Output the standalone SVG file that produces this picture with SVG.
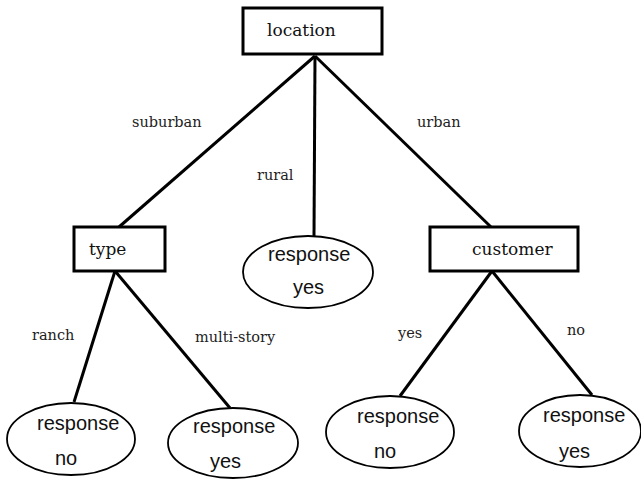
<svg xmlns="http://www.w3.org/2000/svg" width="641" height="480" viewBox="0 0 641 480">
<style>
.box{fill:#fff;stroke:#000;stroke-width:3}
.leaf{fill:#fff;stroke:#000;stroke-width:1.8}
.edge{stroke:#000;stroke-width:3;fill:none}
.bt{font-family:"DejaVu Serif","Liberation Serif",serif;font-size:17px;fill:#111}
.lb{font-family:"DejaVu Serif","Liberation Serif",serif;font-size:14.5px;fill:#222}
.lt{font-family:"Liberation Sans",Arial,sans-serif;font-size:20px;fill:#111}
</style>
<rect width="641" height="480" fill="#fff"/>
<g id="connectors">
<line class="edge" x1="315" y1="56" x2="119" y2="227"/>
<line class="edge" x1="315" y1="56" x2="314" y2="236"/>
<line class="edge" x1="315" y1="56" x2="491" y2="227"/>
<line class="edge" x1="115" y1="271" x2="74" y2="402"/>
<line class="edge" x1="115" y1="271" x2="230" y2="408"/>
<line class="edge" x1="492" y1="271" x2="400" y2="396"/>
<line class="edge" x1="492" y1="271" x2="592" y2="395"/>
<text class="lb" x="132" y="127">suburban</text>
<text class="lb" x="257" y="180">rural</text>
<text class="lb" x="417" y="127">urban</text>
<text class="lb" x="32" y="340">ranch</text>
<text class="lb" x="195" y="342">multi-story</text>
<text class="lb" x="398" y="338">yes</text>
<text class="lb" x="567" y="335">no</text>
</g>
<g id="location">
<rect class="box" x="243" y="8" width="139" height="46"/>
<text class="bt" x="267" y="36">location</text>
</g>
<g id="type">
<rect class="box" x="74" y="227" width="91" height="44"/>
<text class="bt" x="89" y="255">type</text>
</g>
<g id="customer">
<rect class="box" x="430" y="227" width="148" height="44"/>
<text class="bt" x="472" y="255">customer</text>
</g>
<g id="rural-yes">
<ellipse class="leaf" cx="308" cy="272" rx="65" ry="36"/>
<text class="lt" x="268" y="261">response</text>
<text class="lt" x="293" y="294">yes</text>
</g>
<g id="ranch-no">
<ellipse class="leaf" cx="71" cy="439" rx="64" ry="36"/>
<text class="lt" x="37" y="430">response</text>
<text class="lt" x="55" y="465">no</text>
</g>
<g id="multistory-yes">
<ellipse class="leaf" cx="233" cy="443" rx="65" ry="35"/>
<text class="lt" x="193" y="433">response</text>
<text class="lt" x="210" y="468">yes</text>
</g>
<g id="customer-yes-no">
<ellipse class="leaf" cx="390" cy="432" rx="64" ry="36"/>
<text class="lt" x="357" y="423">response</text>
<text class="lt" x="374" y="458">no</text>
</g>
<g id="customer-no-yes">
<ellipse class="leaf" cx="580" cy="431" rx="61" ry="36"/>
<text class="lt" x="543" y="422">response</text>
<text class="lt" x="559" y="458">yes</text>
</g>
</svg>
